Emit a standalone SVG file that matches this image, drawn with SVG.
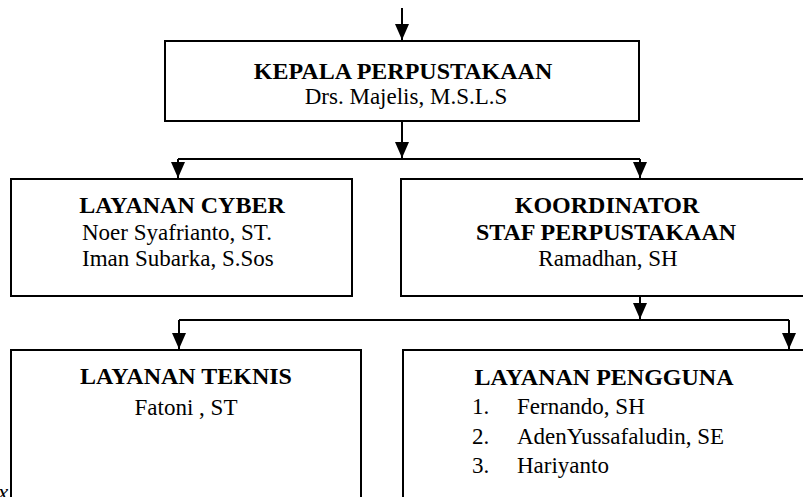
<svg xmlns="http://www.w3.org/2000/svg" width="803" height="497" viewBox="0 0 803 497">
<style>
.box{fill:#fff;stroke:#000;stroke-width:2}
.con{fill:none;stroke:#000;stroke-width:2}
.t{font-family:"Liberation Serif","Times New Roman",serif;fill:#000;text-anchor:middle}
.b{font-weight:bold;font-size:24px}
.r{font-size:23px}
.l{font-family:"Liberation Serif","Times New Roman",serif;fill:#000;font-size:23px}
</style>
<defs>
<marker id="ah" viewBox="0 0 16 14" refX="16" refY="7" markerWidth="16" markerHeight="14" markerUnits="userSpaceOnUse" orient="auto">
<path d="M0,0 L16,7 L0,14 Z" fill="#000"/>
</marker>
</defs>
<rect width="803" height="497" fill="#fff"/>
<g id="connectors">
<path class="con" d="M402,8 V40" marker-end="url(#ah)"/>
<path class="con" d="M402,121 V158" marker-end="url(#ah)"/>
<path class="con" d="M178,159 H640"/>
<path class="con" d="M178,159 V178" marker-end="url(#ah)"/>
<path class="con" d="M640,159 V178" marker-end="url(#ah)"/>
<path class="con" d="M640,297 V319" marker-end="url(#ah)"/>
<path class="con" d="M179,320 H789"/>
<path class="con" d="M179,320 V349" marker-end="url(#ah)"/>
<path class="con" d="M789,320 V349" marker-end="url(#ah)"/>
</g>
<g id="kepala">
<rect class="box" x="165" y="41" width="474" height="80"/>
<text class="t b" x="403" y="79">KEPALA PERPUSTAKAAN</text>
<text class="t r" x="406" y="104">Drs. Majelis, M.S.L.S</text>
</g>
<g id="cyber">
<rect class="box" x="11" y="179" width="341" height="117"/>
<text class="t b" x="182" y="213">LAYANAN CYBER</text>
<text class="l" x="82" y="240">Noer Syafrianto, ST.</text>
<text class="l" x="82" y="266">Iman Subarka, S.Sos</text>
</g>
<g id="koordinator">
<rect class="box" x="401" y="179" width="420" height="117"/>
<text class="t b" x="607" y="213">KOORDINATOR</text>
<text class="t b" x="606" y="240">STAF PERPUSTAKAAN</text>
<text class="t r" x="608" y="266">Ramadhan, SH</text>
</g>
<g id="teknis">
<rect class="box" x="11" y="350" width="350" height="160"/>
<text class="t b" x="186" y="384">LAYANAN TEKNIS</text>
<text class="t r" x="186" y="415">Fatoni , ST</text>
</g>
<g id="pengguna">
<rect class="box" x="403" y="350" width="420" height="160"/>
<text class="t b" x="604" y="385">LAYANAN PENGGUNA</text>
<text class="l" x="472" y="414">1.</text>
<text class="l" x="517" y="414">Fernando, SH</text>
<text class="l" x="472" y="444">2.</text>
<text class="l" x="517" y="444">AdenYussafaludin, SE</text>
<text class="l" x="472" y="473">3.</text>
<text class="l" x="517" y="473">Hariyanto</text>
</g>
<text class="l" x="-2" y="500" font-style="italic" font-size="16">x</text>
</svg>
